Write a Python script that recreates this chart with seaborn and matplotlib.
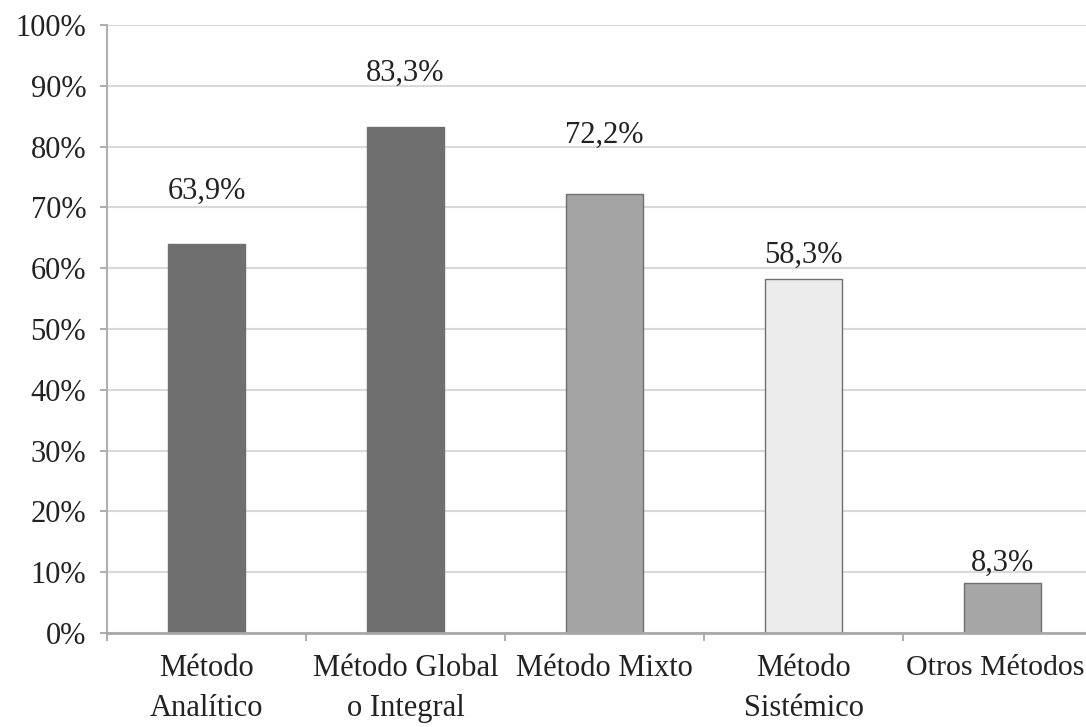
import matplotlib
matplotlib.use('Agg')
import matplotlib.pyplot as plt
import pandas as pd
import seaborn as sns

# datos del gráfico
metodos = ['Método\nAnalítico', 'Método Global\no Integral', 'Método Mixto',
           'Método\nSistémico', 'Otros Métodos']
porcentajes = [63.9, 83.3, 72.2, 58.3, 8.3]
colores = ['#6f6f6f', '#6f6f6f', '#a4a4a4', '#ececec', '#a6a6a6']
bordes = ['#6f6f6f', '#6f6f6f', '#a4a4a4', '#e0e0e0', '#a6a6a6']
ticks_y = [0, 10, 20, 30, 40, 50, 60, 70, 80, 90, 100]

# desplazamiento de cada etiqueta sobre su barra (puntos)
desplazamientos = [38, 38, 42, 17, 14]

sns.set_theme(style='white')
plt.rcParams['font.family'] = ['Liberation Serif', 'DejaVu Serif']

df = pd.DataFrame({'metodo': metodos, 'pct': porcentajes})

fig = plt.figure(figsize=(10.86, 7.27), dpi=100)
ax = fig.add_axes([107 / 1086, 94 / 727, 995 / 1086, 608 / 727])

sns.barplot(data=df, x='metodo', y='pct', hue='metodo', palette=colores,
            width=0.39, legend=False, ax=ax, saturation=1,
            edgecolor=bordes, linewidth=1)

ax.set_xlim(-0.5, 4.5)
ax.set_ylim(0, 100)
ax.set_yticks(ticks_y)
ax.set_yticklabels([f'{t}%' for t in ticks_y])
ax.yaxis.grid(True, color='#d9d9d9', linewidth=1.5)
ax.set_axisbelow(True)
ax.set_xlabel('')
ax.set_ylabel('')

# la última etiqueta queda en el borde derecho: se escribe aparte
ax.set_xticks(range(len(metodos)))
ax.set_xticklabels(metodos[:-1] + [''])
fig.text(1085 / 1086, 1 - 655 / 727, metodos[-1], ha='right', va='top',
         fontsize=21.5, color='#222222')

# marcas del eje x entre categorías
ax.set_xticks([i + 0.5 for i in range(-1, 5)], minor=True)
ax.tick_params(axis='x', which='minor', length=6, width=1.2, color='#a0a0a0',
               direction='out', bottom=True)
ax.tick_params(axis='x', which='major', length=0, pad=15, labelsize=22,
               labelcolor='#222222')
ax.tick_params(axis='y', length=5, width=1.2, color='#a0a0a0', direction='out',
               left=True, pad=10, labelsize=22, labelcolor='#222222')
for lbl in ax.get_xticklabels():
    lbl.set_linespacing(1.5)

for lado in ['top', 'right']:
    ax.spines[lado].set_visible(False)
ax.spines['left'].set_color('#b0b0b0')
ax.spines['bottom'].set_color('#a8a8a8')
ax.spines['left'].set_linewidth(1.5)
ax.spines['bottom'].set_linewidth(2)

for i, (v, d) in enumerate(zip(porcentajes, desplazamientos)):
    ax.annotate(f'{v:.1f}%'.replace('.', ','), (i, v), xytext=(0, d),
                textcoords='offset points', ha='center', va='center',
                fontsize=22, color='#222222')

fig.savefig('out.png', dpi=100)
